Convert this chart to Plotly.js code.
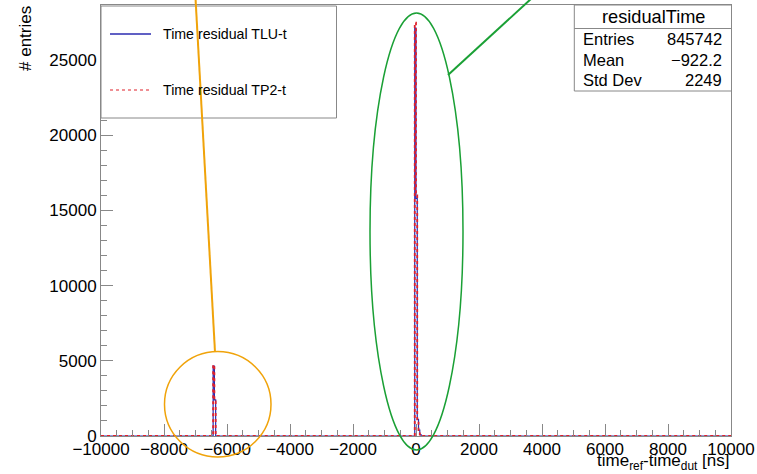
<!DOCTYPE html>
<html>
<head>
<meta charset="utf-8">
<script src="https://cdn.plot.ly/plotly-3.0.1.min.js"></script>
<style>html,body{margin:0;padding:0;background:#fff;}#chart{width:757px;height:474px;}</style>
</head>
<body>
<div id="chart"></div>
<script>
// Histogram data (bin left edges, step 'hv')
const tluX = [-10000, -6440, -6400, -6360, -40, 0, 40, 80, 120, 160, 10000];
const tluY = [0, 4650, 2400, 0, 27130, 15800, 1100, 400, 100, 0, 0];
const tp2X = [-10000, -6440, -6400, -6360, -40, 0, 40, 80, 120, 160, 10000];
const tp2Y = [0, 4730, 2300, 0, 27480, 16000, 1100, 400, 100, 0, 0];

const seriesNames = ["Time residual TLU-t", "Time residual TP2-t"];
const statsTitle = "residualTime";
const statsLabels = ["Entries", "Mean", "Std Dev"];
const statsValues = ["845742", "\u2212922.2", "2249"];

const xTitle = "time<sub>ref</sub>-time<sub>dut</sub> [ns]";
const yTitle = "# entries";

// plot area in pixels
const L = 101, R = 731, T = 5, B = 436;
const px = p => (p - L) / (R - L);
const py = p => (B - p) / (B - T);

const FONT = "Liberation Sans, Arial, Helvetica, sans-serif";
const blue = "#2b2bb0";
const red = "#e0202a";
const frame = "#888888";

const traces = [
  {x: tluX, y: tluY, type: "scatter", mode: "lines", line: {shape: "hv", color: blue, width: 1.2}, showlegend: false, name: seriesNames[0]},
  {x: tp2X, y: tp2Y, type: "scatter", mode: "lines", line: {shape: "hv", color: red, width: 1.8, dash: "dot"}, showlegend: false, name: seriesNames[1]}
];

const shapes = [
  // legend box
  {type: "rect", xref: "paper", yref: "paper", x0: px(101), x1: px(336.5), y0: py(118), y1: py(6), line: {color: frame, width: 1}, fillcolor: "rgba(255,255,255,1)", layer: "above"},
  {type: "line", xref: "paper", yref: "paper", x0: px(110), x1: px(151), y0: py(34), y1: py(34), line: {color: blue, width: 1.5}},
  {type: "line", xref: "paper", yref: "paper", x0: px(110), x1: px(151), y0: py(90), y1: py(90), line: {color: red, width: 1.2, dash: "dot"}},
  // stats box
  {type: "rect", xref: "paper", yref: "paper", x0: px(574.3), x1: px(731.5), y0: py(91), y1: py(5), line: {color: frame, width: 1}, fillcolor: "rgba(255,255,255,1)", layer: "above"},
  {type: "line", xref: "paper", yref: "paper", x0: px(574.3), x1: px(731.5), y0: py(28.5), y1: py(28.5), line: {color: frame, width: 1}},
  // orange highlight
  {type: "circle", xref: "paper", yref: "paper", x0: px(164.5), x1: px(271), y0: py(457), y1: py(351.5), line: {color: "#f0a30a", width: 1.5}},
  {type: "line", xref: "paper", yref: "paper", x0: px(195.5), x1: px(215), y0: py(-2), y1: py(352), line: {color: "#f0a30a", width: 2}},
  // green highlight
  {type: "circle", xref: "paper", yref: "paper", x0: px(370), x1: px(463), y0: py(450), y1: py(13), line: {color: "#1aa035", width: 1.5}},
  {type: "line", xref: "paper", yref: "paper", x0: px(448), x1: px(532), y0: py(75), y1: py(-2), line: {color: "#1aa035", width: 2}}
];

const annotations = [
  {xref: "paper", yref: "paper", x: px(161), y: py(34), xanchor: "left", yanchor: "middle", text: seriesNames[0], showarrow: false, font: {family: FONT, size: 14.2, color: "#000"}},
  {xref: "paper", yref: "paper", x: px(161), y: py(90), xanchor: "left", yanchor: "middle", text: seriesNames[1], showarrow: false, font: {family: FONT, size: 14.2, color: "#000"}},
  {xref: "paper", yref: "paper", x: px(653), y: py(17), xanchor: "center", yanchor: "middle", text: statsTitle, showarrow: false, font: {family: FONT, size: 18.2, color: "#000"}},
  {xref: "paper", yref: "paper", x: px(25), y: py(39), xanchor: "center", yanchor: "middle", textangle: -90, text: yTitle, showarrow: false, font: {family: FONT, size: 17, color: "#000"}},
  {xref: "paper", yref: "paper", x: 1, y: py(462), xanchor: "right", yanchor: "middle", text: xTitle, showarrow: false, font: {family: FONT, size: 17, color: "#000"}}
];
const rowY = [39, 60, 80];
statsLabels.forEach((lab, i) => {
  annotations.push({xref: "paper", yref: "paper", x: px(581), y: py(rowY[i]), xanchor: "left", yanchor: "middle", text: lab, showarrow: false, font: {family: FONT, size: 16.5, color: "#000"}});
  annotations.push({xref: "paper", yref: "paper", x: px(724), y: py(rowY[i]), xanchor: "right", yanchor: "middle", text: statsValues[i], showarrow: false, font: {family: FONT, size: 16.5, color: "#000"}});
});

const layout = {
  width: 757, height: 474,
  margin: {l: L, r: 757 - R, t: T, b: 474 - B, pad: 0},
  paper_bgcolor: "#fff", plot_bgcolor: "#fff",
  font: {family: FONT, size: 17, color: "#000"},
  showlegend: false,
  xaxis: {
    range: [-10000, 10000], dtick: 2000, tick0: 0, tickformat: "d",
    ticks: "inside", ticklen: 12, tickcolor: frame, tickwidth: 1, ticklabelstandoff: -2,
    minor: {dtick: 500, ticks: "inside", ticklen: 6, tickcolor: frame},
    showgrid: false, zeroline: false, showline: true, mirror: true, linecolor: frame, linewidth: 1,
    tickfont: {family: FONT, size: 17, color: "#000"}
  },
  yaxis: {
    range: [0, 28660], dtick: 5000, tick0: 0, tickformat: "d",
    ticks: "inside", ticklen: 12, tickcolor: frame, tickwidth: 1,
    minor: {dtick: 1000, ticks: "inside", ticklen: 6, tickcolor: frame},
    showgrid: false, zeroline: false, showline: true, mirror: true, linecolor: frame, linewidth: 1,
    tickfont: {family: FONT, size: 17, color: "#000"}
  },
  shapes: shapes,
  annotations: annotations
};

Plotly.newPlot("chart", traces, layout, {staticPlot: true, displayModeBar: false});
</script>
</body>
</html>
